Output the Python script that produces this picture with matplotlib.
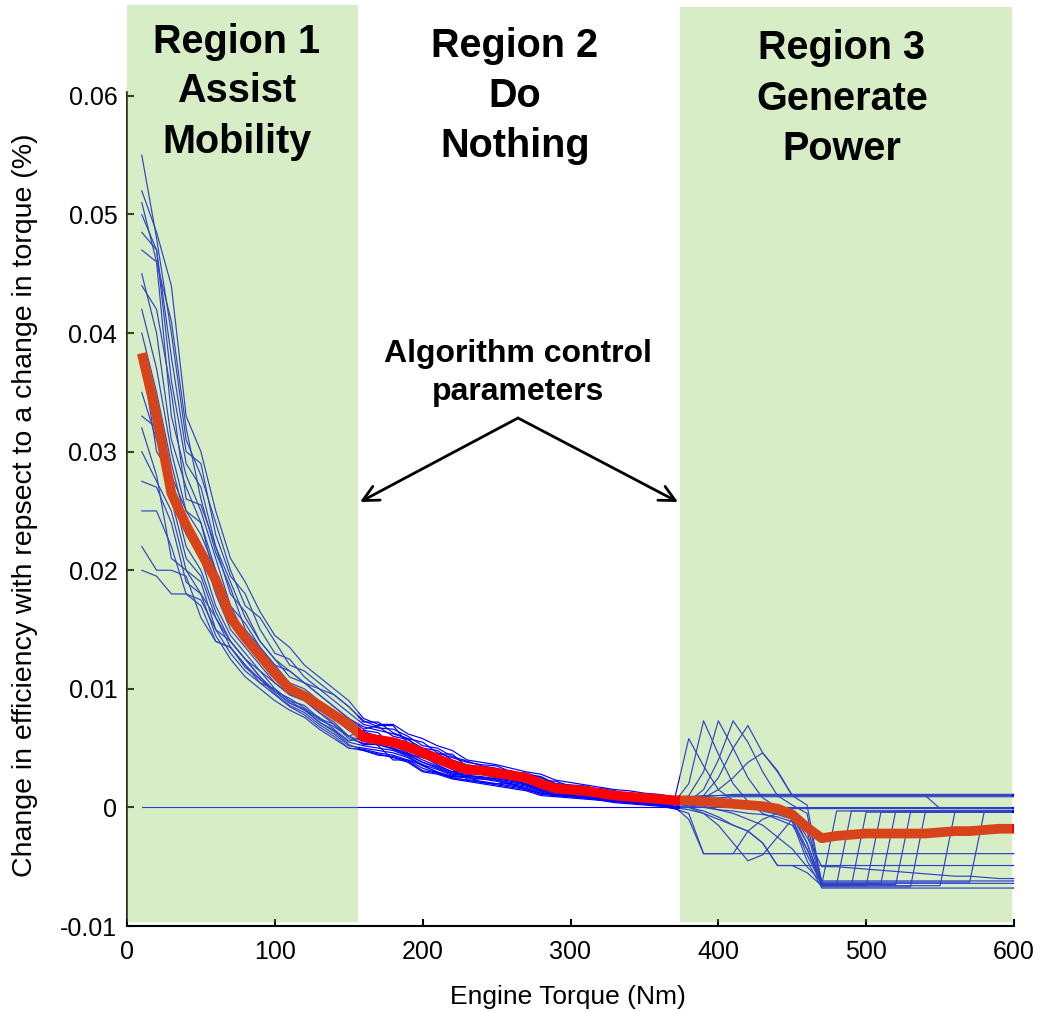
import numpy as np
import matplotlib.pyplot as plt
from matplotlib.patches import Rectangle

plt.rcParams['font.family'] = ['Liberation Sans', 'DejaVu Sans']

# Engine torque grid (Nm)
torque_low = [10, 20, 30, 40, 50, 60, 70, 80, 90, 100,
              110, 120, 130, 140, 150, 160, 170, 180, 190, 200,
              210, 220, 230, 240, 250, 260, 270, 280, 290, 300,
              310, 320, 330, 340, 350, 360, 370]
torque_high = [380, 390, 400, 410, 420, 430, 440, 450, 460, 470,
               480, 490, 500, 510, 520, 530, 540, 550, 560, 570,
               580, 590, 600]

# Individual runs, values in units of 1e-3 (%), region 1-2 part
runs_low = [
    [55, 48, 40, 31, 28, 24, 20, 17, 16, 14,
     12, 11.5, 10.5, 9.5, 8.5, 7.2, 7.2, 6.3, 5.8, 5.5,
     4.6, 4.2, 3.8, 3.6, 3.5, 3.0, 2.8, 2.6, 2.0, 1.9,
     1.8, 1.5, 1.3, 1.2, 1.1, 0.9, 0.8],
    [52, 48.5, 44, 33, 30, 25, 21, 19, 16.5, 14.5,
     13.5, 12, 11, 10, 9, 7.5, 7.0, 7.0, 6.2, 5.8,
     5.2, 4.8, 4.0, 3.8, 3.6, 3.3, 3.0, 2.8, 2.3, 2.1,
     1.9, 1.7, 1.5, 1.4, 1.2, 1.1, 0.9],
    [50, 47, 38, 30, 29, 23, 19.5, 18, 15, 13,
     12.5, 11, 10, 9.5, 8.5, 7.3, 6.8, 6.0, 5.7, 5.0,
     4.5, 4.5, 3.4, 3.2, 3.1, 2.9, 2.6, 2.3, 1.8, 1.7,
     1.5, 1.5, 1.2, 1.0, 0.9, 0.8, 0.6],
    [48.5, 47, 36, 29, 27, 22, 19, 16, 14, 12.5,
     11, 10.5, 9.5, 8.5, 7.5, 6.8, 6.5, 6.2, 5.8, 4.6,
     4.2, 3.9, 3.5, 3.3, 3.0, 2.8, 2.7, 2.1, 1.8, 1.6,
     1.6, 1.3, 1.1, 1.0, 0.9, 0.7, 0.5],
    [47, 46, 33, 28, 25, 21, 17, 15.5, 13.5, 12,
     10.5, 10, 9, 8, 7.0, 6.2, 6.0, 5.8, 5.0, 4.8,
     4.0, 3.5, 3.0, 3.0, 2.8, 2.6, 2.4, 2.0, 1.6, 1.5,
     1.4, 1.2, 1.0, 0.9, 0.7, 0.6, 0.4],
    [45, 40, 31, 27, 24, 20, 16.5, 14.5, 13, 11.5,
     10, 9.5, 8.8, 7.8, 6.8, 6.0, 5.8, 5.5, 5.2, 4.5,
     3.8, 3.3, 3.2, 2.9, 2.7, 2.5, 2.3, 1.8, 1.5, 1.4,
     1.3, 1.1, 0.9, 0.8, 0.7, 0.5, 0.3],
    [42, 37, 30, 25, 24, 19, 16, 14, 12.5, 11,
     10, 9.2, 8.3, 7.5, 6.5, 5.8, 5.6, 5.5, 4.8, 4.3,
     3.6, 3.0, 3.0, 2.8, 2.6, 2.4, 2.2, 1.7, 1.4, 1.3,
     1.2, 1.0, 0.8, 0.7, 0.6, 0.4, 0.2],
    [40, 35, 29, 24, 22, 18, 15, 13.5, 12, 10.5,
     9.5, 9, 8, 7.2, 6.0, 5.6, 5.5, 5.2, 4.6, 4.0,
     3.5, 3.0, 2.8, 2.8, 2.5, 2.3, 2.0, 1.6, 1.3, 1.2,
     1.1, 0.9, 0.8, 0.7, 0.5, 0.4, 0.3],
    [37, 33, 27.5, 23, 21, 17, 14.5, 13, 11.5, 10,
     9, 8.6, 7.5, 7.0, 5.8, 5.4, 5.3, 5.0, 4.5, 3.8,
     3.3, 2.8, 2.7, 2.6, 2.4, 2.2, 1.9, 1.5, 1.2, 1.1,
     1.0, 0.8, 0.7, 0.6, 0.5, 0.3, 0.1],
    [35, 31, 27, 22, 20, 16.5, 14, 12.5, 11, 9.8,
     8.8, 8.3, 7.2, 6.5, 5.5, 5.2, 5.0, 4.8, 4.3, 3.6,
     3.2, 2.7, 2.6, 2.5, 2.3, 2.0, 1.8, 1.4, 1.1, 1.0,
     0.9, 0.8, 0.6, 0.5, 0.4, 0.3, 0.0],
    [33, 32, 26, 21, 19.5, 16, 13.5, 12, 10.8, 9.6,
     8.6, 8, 7, 6.2, 5.2, 5.0, 4.8, 4.6, 4.2, 3.5,
     3.0, 2.6, 2.5, 2.4, 2.2, 1.9, 1.7, 1.3, 1.0, 1.0,
     0.8, 0.7, 0.5, 0.4, 0.3, 0.2, -0.1],
    [30, 27.5, 25, 20, 19, 15, 13, 11.5, 10.5, 9.5,
     8.5, 7.8, 6.8, 6.0, 5.0, 4.9, 4.6, 4.4, 4.0, 3.3,
     2.9, 2.5, 2.3, 2.2, 2.0, 1.8, 1.6, 1.2, 1.0, 0.9,
     0.8, 0.6, 0.5, 0.4, 0.3, 0.2, 0.0],
    [27.5, 27, 24, 19, 18, 14.5, 12.5, 11, 10, 9,
     8.2, 7.6, 6.6, 5.8, 5.0, 4.8, 4.5, 4.2, 3.8, 3.0,
     2.8, 2.4, 2.2, 2.0, 1.8, 1.6, 1.4, 1.0, 0.9, 0.8,
     0.7, 0.6, 0.4, 0.3, 0.2, 0.1, -0.1],
    [25, 25, 22, 18, 17, 14, 13.5, 11.8, 10.8, 9.8,
     8.8, 8.2, 7.2, 6.4, 5.3, 4.8, 4.4, 4.3, 3.9, 3.1,
     2.9, 2.5, 2.3, 2.1, 1.9, 1.7, 1.5, 1.1, 1.0, 0.9,
     0.8, 0.7, 0.5, 0.4, 0.3, 0.2, 0.0],
    [22, 20, 20, 19.5, 16, 14, 13.5, 12, 10.5, 10,
     9, 8.2, 7.6, 6.6, 5.6, 5.9, 5.2, 4.0, 4.0, 3.6,
     2.9, 2.6, 2.6, 2.1, 2.0, 2.0, 1.5, 1.2, 1.0, 1.0,
     0.8, 0.7, 0.6, 0.5, 0.3, 0.2, 0.0],
    [20, 19.5, 18, 18, 17.5, 15, 14, 12.5, 11.5, 10.5,
     9.5, 9.0, 8.0, 7.0, 6.0, 6.5, 6.3, 5.0, 4.5, 4.2,
     3.8, 3.2, 2.4, 2.4, 2.5, 2.3, 2.0, 1.5, 1.3, 1.2,
     1.1, 1.0, 0.8, 0.7, 0.6, 0.5, 0.3],
    [44, 42, 35, 26, 25.5, 22, 18, 16.5, 14, 12.5,
     11.5, 10.5, 10, 9, 8, 7.0, 6.7, 6.6, 6.0, 5.2,
     5.0, 4.3, 3.9, 3.5, 3.3, 3.0, 2.9, 2.5, 2.0, 1.8,
     1.7, 1.4, 1.3, 1.2, 1.0, 0.8, 0.7],
    [38, 30, 28, 25, 23, 20, 17, 14.5, 13, 11,
     10, 9.5, 8.5, 7.5, 6.5, 6.4, 6.0, 5.8, 5.5, 4.2,
     4.0, 3.6, 3.3, 3.0, 2.7, 2.7, 2.5, 2.2, 1.7, 1.6,
     1.5, 1.2, 1.1, 1.0, 0.8, 0.6, 0.4],
    [51, 46, 41, 32, 26, 21.5, 18.5, 15, 13.5, 12,
     11.5, 10.5, 9.5, 8.5, 7.5, 6.6, 6.9, 6.9, 5.4, 5.0,
     4.8, 4.0, 3.6, 3.4, 3.2, 3.1, 2.6, 2.3, 2.2, 1.8,
     1.6, 1.6, 1.4, 1.1, 1.0, 0.9, 0.6],
    [32, 28, 21, 20, 18, 16, 14, 12.5, 11, 9.8,
     9.2, 8.4, 7.4, 6.8, 6.0, 5.3, 5.3, 4.9, 4.4, 3.8,
     3.4, 2.9, 2.7, 2.5, 2.3, 2.1, 1.9, 1.4, 1.1, 1.1,
     1.0, 0.8, 0.7, 0.5, 0.4, 0.3, 0.1],
]

# same runs, region 3 part (380-600 Nm)
runs_high = [
    [0.9, 1.0, 1.0, 1.1, 1.1, 1.1, 1.1, 1.1, 1.1, 1.1,
     1.1, 1.1, 1.1, 1.1, 1.1, 1.1, 1.1, 1.1, 1.1, 1.1, 1.1, 1.1, 1.1],
    [0.9, 0.9, 1.0, 1.0, 1.0, 1.0, 1.0, 1.0, 1.0, 1.0,
     1.0, 1.0, 1.0, 1.0, 1.0, 1.0, 1.0, 1.0, 1.0, 1.0, 1.0, 1.0, 1.0],
    [0.4, 0.3, 0.1, 0.0, -0.1, -0.2, -0.2, -0.1, -0.1, -0.1,
     -0.1, -0.1, -0.1, -0.1, -0.1, -0.1, -0.1, -0.1, -0.1, -0.1, -0.1, -0.1, -0.1],
    [5.8, 3.5, 1.5, 0.6, 0.2, -0.3, -0.6, -1.0, -4.0, -6.5,
     -0.3, -0.3, -0.3, -0.3, -0.3, -0.3, -0.3, -0.3, -0.3, -0.3, -0.3, -0.3, -0.3],
    [2.0, 7.3, 4.5, 2.0, 0.5, -0.5, -1.0, -1.5, -3.5, -6.5,
     -6.5, -0.3, -0.3, -0.3, -0.3, -0.3, -0.3, -0.3, -0.3, -0.3, -0.3, -0.3, -0.3],
    [1.0, 3.0, 7.3, 5.0, 2.5, 0.8, 0.0, -0.3, -2.0, -6.6,
     -6.6, -6.6, -0.4, -0.4, -0.4, -0.4, -0.4, -0.4, -0.4, -0.4, -0.4, -0.4, -0.4],
    [0.5, 1.5, 4.0, 7.3, 5.5, 3.0, 1.0, 0.2, -0.5, -6.6,
     -6.6, -6.6, -6.6, -0.4, -0.4, -0.4, -0.4, -0.4, -0.4, -0.4, -0.4, -0.4, -0.4],
    [0.3, 1.0, 2.5, 5.0, 6.9, 4.6, 3.1, 1.0, 0.2, -6.4,
     -6.4, -6.4, -6.4, -6.4, -0.3, -0.3, -0.3, -0.3, -0.3, -0.3, -0.3, -0.3, -0.3],
    [-1.0, -3.9, -3.9, -3.9, -2.0, -1.0, -0.5, -0.5, -3.0, -6.5,
     -6.5, -6.5, -6.5, -6.5, -6.5, -0.4, -0.4, -0.4, -0.4, -0.4, -0.4, -0.4, -0.4],
    [-0.2, -0.5, -1.5, -3.0, -4.5, -4.0, -2.5, -1.0, -3.5, -6.7,
     -6.7, -6.7, -6.7, -6.7, -6.7, -6.7, -0.4, -0.4, -0.4, -0.4, -0.4, -0.4, -0.4],
    [0.0, -0.3, -0.8, -1.5, -2.0, -3.0, -4.9, -4.9, -5.5, -6.6,
     -6.6, -6.6, -6.6, -6.6, -6.6, -6.6, -6.6, -6.6, -0.4, -0.4, -0.4, -0.4, -0.4],
    [0.2, 0.1, -0.2, -0.5, -1.0, -1.5, -2.5, -3.5, -5.0, -6.3,
     -6.3, -6.3, -6.3, -6.3, -6.3, -6.3, -6.3, -6.3, -6.3, -6.3, -0.3, -0.3, -0.3],
    [-0.5, -3.9, -3.9, -3.9, -3.9, -3.9, -3.9, -3.9, -3.9, -3.9,
     -3.9, -3.9, -3.9, -3.9, -3.9, -3.9, -3.9, -3.9, -3.9, -3.9, -3.9, -3.9, -3.9],
    [0.0, -0.5, -1.0, -1.5, -2.0, -3.0, -4.9, -4.9, -4.9, -4.9,
     -4.9, -4.9, -4.9, -4.9, -4.9, -4.9, -4.9, -4.9, -4.9, -4.9, -4.9, -4.9, -4.9],
    [0.6, 0.5, 0.4, 0.3, 0.2, 0.1, 0.0, -0.2, -1.5, -6.2,
     -6.2, -6.2, -6.2, -6.2, -6.2, -6.2, -6.2, -6.2, -6.2, -6.2, -6.2, -6.2, -6.2],
    [0.4, 0.3, 0.2, 0.1, 0.0, -0.2, -0.3, -0.6, -2.5, -5.0,
     -5.0, -5.1, -5.2, -5.3, -5.4, -5.5, -5.6, -5.7, -5.8, -5.8, -5.9, -6.0, -6.0],
    [0.7, 0.8, 0.8, 0.9, 0.9, 0.9, 0.9, 0.9, 0.9, 0.9,
     0.9, 0.9, 0.9, 0.9, 0.9, 0.9, 0.9, 0.9, 0.9, 0.9, 0.9, 0.9, 0.9],
    [0.3, 0.2, 0.1, 0.0, -0.1, -0.2, -0.4, -0.8, -3.0, -6.4,
     -6.4, -6.4, -6.4, -6.4, -6.4, -6.4, -6.4, -6.4, -6.4, -6.4, -6.4, -6.4, -6.4],
    [0.5, 0.8, 1.5, 2.5, 3.8, 4.6, 3.0, 1.0, 1.0, 1.0,
     1.0, 1.0, 1.0, 1.0, 1.0, 1.0, 1.0, -0.1, -0.1, -0.1, -0.1, -0.1, -0.1],
    [0.1, 0.0, -0.2, -0.3, -0.5, -0.6, -0.8, -1.2, -4.5, -6.8,
     -6.8, -6.8, -6.8, -6.8, -6.8, -6.8, -6.8, -6.8, -6.8, -6.8, -6.8, -6.8, -6.8],
]

# mean over runs (thick line), units 1e-3
mean_curve = [38.3, 33, 26.5, 23.8, 21.5, 19.2, 16, 14.3, 12.8, 11.3,
              10.0, 9.4, 8.6, 7.8, 7.0, 5.9, 5.7, 5.5, 5.1, 4.6,
              4.1, 3.6, 3.2, 3.1, 2.9, 2.7, 2.5, 2.0, 1.6, 1.5,
              1.4, 1.2, 1.0, 0.9, 0.8, 0.7, 0.6, 0.6, 0.5, 0.4,
              0.3, 0.2, 0.1, -0.1, -0.6, -1.7, -2.6, -2.4, -2.3, -2.2,
              -2.2, -2.2, -2.2, -2.2, -2.1, -2.0, -2.0, -1.9, -1.8, -1.8]

yticks = [-0.01, 0, 0.01, 0.02, 0.03, 0.04, 0.05, 0.06]
ytick_labels = ['-0.01', '0', '0.01', '0.02', '0.03', '0.04', '0.05', '0.06']
xticks = [0, 100, 200, 300, 400, 500, 600]

W, H = 1040, 1011
fig = plt.figure(figsize=(W / 100, H / 100), dpi=100)
ax = fig.add_axes([127 / W, 1 - 926 / H, (1014 - 127) / W, 925 / H])

torque = np.array(torque_low + torque_high)
for lo, hi in zip(runs_low, runs_high):
    ax.plot(torque, np.array(lo + hi) / 1000, color='#0000FF', lw=0.85)
ax.axhline(0, xmin=10 / 600, xmax=1, color='#0000FF', lw=0.8)
ax.plot(torque, np.array(mean_curve) / 1000, color='#FF0000', lw=7,
        solid_capstyle='butt', solid_joinstyle='round')

ax.set_xlim(0, 600)
ax.set_ylim(-0.01, 0.068)
ax.set_yticks(yticks)
ax.set_yticklabels(ytick_labels)
ax.set_xticks(xticks)
ax.spines['top'].set_visible(False)
ax.spines['right'].set_visible(False)
ax.spines['left'].set_bounds(-0.01, 0.0603)
ax.spines['left'].set_linewidth(1.2)
ax.spines['bottom'].set_linewidth(1.5)
ax.tick_params(direction='in', length=5, width=1.5, labelsize=18)
ax.tick_params(axis='x', pad=10)
ax.tick_params(axis='y', pad=7)

ax.set_xlabel('Engine Torque (Nm)', fontsize=19, va='center')
ax.xaxis.set_label_coords(0.497, -0.077)
ax.set_ylabel('Change in efficiency with repsect to a change in torque (%)',
              fontsize=20.5, va='center')
ax.yaxis.set_label_coords(-0.115, 0.455)

# translucent green bands drawn over the plot
for x0, x1, y0 in [(127, 358, 5), (680, 1012, 7)]:
    fig.add_artist(Rectangle((x0 / W, 1 - 922 / H), (x1 - x0) / W, (922 - y0) / H,
                             transform=fig.transFigure, facecolor='#8BCA53',
                             alpha=0.337, edgecolor='none', zorder=5))

regions = [
    (237, ['Region 1', 'Assist', 'Mobility'], [53, 102, 153]),
    (515, ['Region 2', 'Do', 'Nothing'], [57, 107, 157]),
    (842, ['Region 3', 'Generate', 'Power'], [59, 110, 160]),
]
for cx, lines, bases in regions:
    for txt, by in zip(lines, bases):
        fig.text(cx / W, 1 - by / H, txt, ha='center', va='baseline',
                 fontsize=28.5, fontweight='bold', zorder=6)

fig.text(518 / W, 1 - 362 / H, 'Algorithm control', ha='center', va='baseline',
         fontsize=23, fontweight='bold', zorder=6)
fig.text(518 / W, 1 - 400 / H, 'parameters', ha='center', va='baseline',
         fontsize=23, fontweight='bold', zorder=6)
for tip in [(360, 502), (678, 502)]:
    ax.annotate('', xy=(tip[0] / W, 1 - tip[1] / H), xytext=(518 / W, 1 - 418 / H),
                xycoords='figure fraction', textcoords='figure fraction',
                arrowprops=dict(arrowstyle='->', lw=2, color='black', mutation_scale=28,
                                shrinkA=0, shrinkB=0))

fig.savefig('out.png', dpi=100)
